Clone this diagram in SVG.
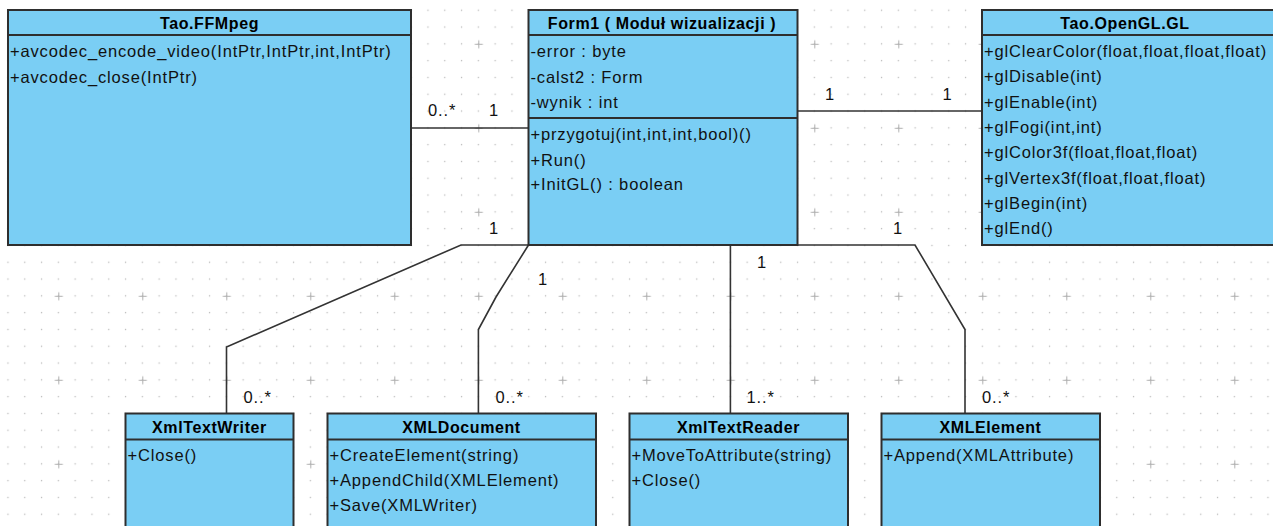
<svg xmlns="http://www.w3.org/2000/svg" width="1273" height="526" viewBox="0 0 1273 526">
  <style>
    .box { fill: #7acef4; stroke: #2e2e2e; stroke-width: 2; }
    .sep { stroke: #2e2e2e; stroke-width: 2; fill: none; }
    .edge { stroke: #333333; stroke-width: 1.6; fill: none; }
    .title { font-family: "Liberation Sans", Arial, sans-serif; font-size: 16px; font-weight: bold; letter-spacing: 0.6px; fill: #000; text-anchor: middle; }
    .row { font-family: "Liberation Sans", Arial, sans-serif; font-size: 16.5px; letter-spacing: 0.85px; fill: #111; }
    .mult { font-family: "Liberation Sans", Arial, sans-serif; font-size: 16.5px; letter-spacing: 0.85px; fill: #111; }
  </style>
  <defs>
    <pattern id="dots" patternUnits="userSpaceOnUse" x="49.9" y="35.4" width="16.8" height="16.8">
      <rect x="7.8" y="7.8" width="1.3" height="1.3" fill="#bcbcbc"/>
    </pattern>
    <pattern id="crosses" patternUnits="userSpaceOnUse" x="16.3" y="1.8" width="84" height="84">
      <path d="M38.5,42.5 H46.5 M42.5,38.5 V46.5" stroke="#b0b0b0" stroke-width="1"/>
    </pattern>
  </defs>

  <!-- canvas background with grid -->
  <rect x="0" y="0" width="1273" height="526" fill="#ffffff"/>
  <rect x="0" y="0" width="1273" height="526" fill="url(#dots)"/>
  <rect x="0" y="0" width="1273" height="526" fill="url(#crosses)"/>

  <!-- associations -->
  <g id="connectors">
    <path class="edge" d="M411,128 H528"/>
    <path class="edge" d="M798,111 H982"/>
    <path class="edge" d="M528,245 H461 L226.5,347 V413"/>
    <path class="edge" d="M528.5,245 L496,297 L478.4,329.5 V413"/>
    <path class="edge" d="M730.4,245 V413"/>
    <path class="edge" d="M798,245 H915 L965,329.5 V413"/>

    <text class="mult" x="428" y="116">0..*</text>
    <text class="mult" x="489" y="116">1</text>
    <text class="mult" x="825" y="99.5">1</text>
    <text class="mult" x="942.5" y="99.5">1</text>
    <text class="mult" x="489" y="234">1</text>
    <text class="mult" x="538" y="285">1</text>
    <text class="mult" x="757" y="268">1</text>
    <text class="mult" x="893" y="234">1</text>
    <text class="mult" x="243.5" y="403">0..*</text>
    <text class="mult" x="495.5" y="403">0..*</text>
    <text class="mult" x="746.5" y="403">1..*</text>
    <text class="mult" x="982" y="403">0..*</text>
  </g>

  <g id="ffmpeg">
    <rect class="box" x="8" y="10" width="403" height="235"/>
    <line class="sep" x1="8" y1="35" x2="411" y2="35"/>
    <text class="title" x="209.5" y="29">Tao.FFMpeg</text>
    <text class="row" x="10" y="57">+avcodec_encode_video(IntPtr,IntPtr,int,IntPtr)</text>
    <text class="row" x="10" y="82.5">+avcodec_close(IntPtr)</text>
  </g>

  <g id="form1">
    <rect class="box" x="528.5" y="10" width="269" height="235"/>
    <line class="sep" x1="528.5" y1="35" x2="797.5" y2="35"/>
    <line class="sep" x1="528.5" y1="118" x2="797.5" y2="118"/>
    <text class="title" x="662" y="29">Form1 ( Moduł wizualizacji )</text>
    <text class="row" x="530.5" y="57">-error : byte</text>
    <text class="row" x="530.5" y="82.5">-calst2 : Form</text>
    <text class="row" x="530.5" y="108">-wynik : int</text>
    <text class="row" x="530.5" y="140">+przygotuj(int,int,int,bool)()</text>
    <text class="row" x="530.5" y="165.5">+Run()</text>
    <text class="row" x="530.5" y="190">+InitGL() : boolean</text>
  </g>

  <g id="opengl">
    <rect class="box" x="982" y="10" width="300" height="235"/>
    <line class="sep" x1="982" y1="35" x2="1282" y2="35"/>
    <text class="title" x="1125" y="29">Tao.OpenGL.GL</text>
    <text class="row" x="984" y="57">+glClearColor(float,float,float,float)</text>
    <text class="row" x="984" y="82.3">+glDisable(int)</text>
    <text class="row" x="984" y="107.6">+glEnable(int)</text>
    <text class="row" x="984" y="132.9">+glFogi(int,int)</text>
    <text class="row" x="984" y="158.2">+glColor3f(float,float,float)</text>
    <text class="row" x="984" y="183.5">+glVertex3f(float,float,float)</text>
    <text class="row" x="984" y="208.8">+glBegin(int)</text>
    <text class="row" x="984" y="234.1">+glEnd()</text>
  </g>

  <g id="xmltextwriter">
    <rect class="box" x="125.5" y="413.5" width="168" height="130"/>
    <line class="sep" x1="125.5" y1="439.5" x2="293.5" y2="439.5"/>
    <text class="title" x="209.5" y="433">XmlTextWriter</text>
    <text class="row" x="127.5" y="461">+Close()</text>
  </g>

  <g id="xmldocument">
    <rect class="box" x="327.5" y="413.5" width="268.5" height="130"/>
    <line class="sep" x1="327.5" y1="439.5" x2="596" y2="439.5"/>
    <text class="title" x="461.5" y="433">XMLDocument</text>
    <text class="row" x="329.5" y="461">+CreateElement(string)</text>
    <text class="row" x="329.5" y="486">+AppendChild(XMLElement)</text>
    <text class="row" x="329.5" y="511">+Save(XMLWriter)</text>
  </g>

  <g id="xmltextreader">
    <rect class="box" x="629.5" y="413.5" width="218.5" height="130"/>
    <line class="sep" x1="629.5" y1="439.5" x2="848" y2="439.5"/>
    <text class="title" x="738.5" y="433">XmlTextReader</text>
    <text class="row" x="631.5" y="461">+MoveToAttribute(string)</text>
    <text class="row" x="631.5" y="486">+Close()</text>
  </g>

  <g id="xmlelement">
    <rect class="box" x="881.5" y="413.5" width="218.5" height="130"/>
    <line class="sep" x1="881.5" y1="439.5" x2="1100" y2="439.5"/>
    <text class="title" x="990.5" y="433">XMLElement</text>
    <text class="row" x="883.5" y="461">+Append(XMLAttribute)</text>
  </g>
</svg>
